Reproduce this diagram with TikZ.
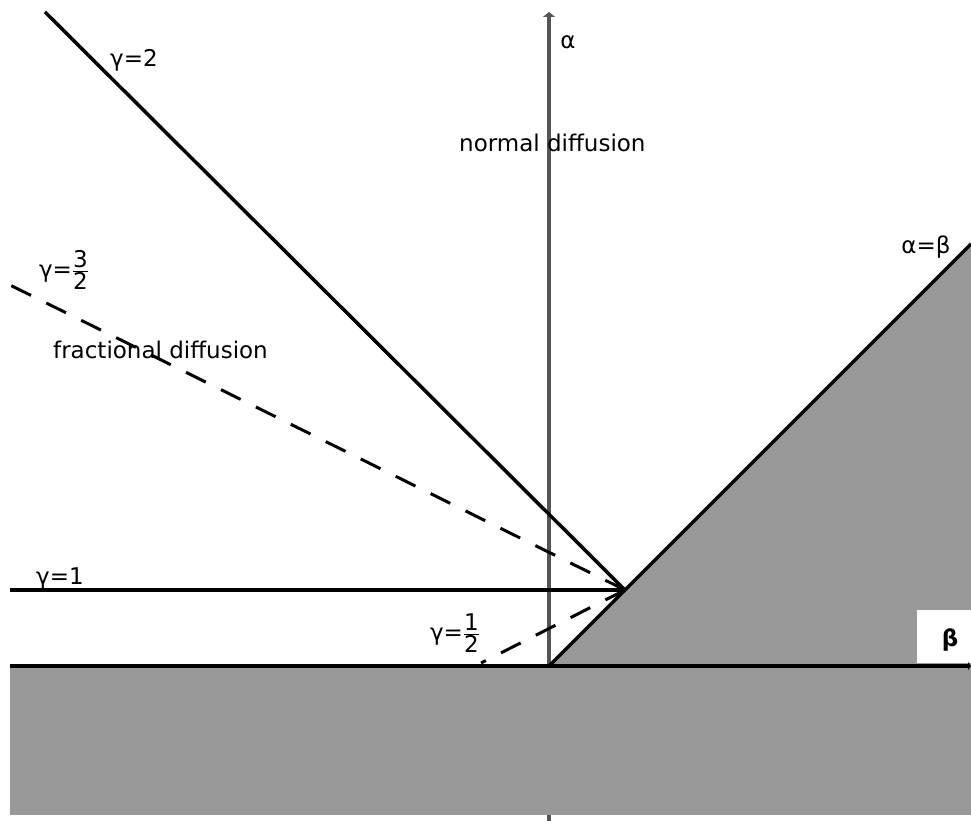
\documentclass[tikz,border=0pt]{standalone}
\usepackage{fontspec}
\setmainfont{DejaVu Sans}
\usetikzlibrary{arrows.meta}
\definecolor{regiongray}{HTML}{999999}
\definecolor{axisgray}{HTML}{555555}
\begin{document}
\begin{tikzpicture}[x=1pt,y=-1pt,
  lbl/.style={font=\fontsize{23}{26}\selectfont, inner sep=0pt},
  curve/.style={line width=3.5pt, black},
  dashcurve/.style={line width=3pt, black, dash pattern=on 22pt off 17pt},
  axisline/.style={line width=4.5pt, axisgray}]
\useasboundingbox (0,0) rectangle (971,821);
% named points
\coordinate (O) at (549,666);
\coordinate (P) at (625,590);
\coordinate (Atop) at (549,12);
\coordinate (Abot) at (549,821);
\coordinate (Bleft) at (10,666);
\coordinate (Bright) at (971,666);
\coordinate (Dtop) at (971,244);
\coordinate (G2) at (45,12);
\coordinate (G1) at (10,590);
\coordinate (G32) at (10,285);
\coordinate (G12) at (481,663);
% alpha axis (hidden below by the shaded band)
\draw[axisline, -{Triangle[length=5pt,width=12pt]}] (Abot) -- (Atop);
% shaded regions
\fill[regiongray] (10,666) rectangle (971,815);
\fill[regiongray] (O) -- (Dtop) -- (Bright) -- cycle;
% beta label box
\fill[white] (917,610) rectangle (971,663);
\node[lbl, font=\fontsize{23}{26}\selectfont\bfseries] (beta) at (950,640) {β};
% beta axis
\draw[line width=3.5pt, black, -{Triangle[length=3pt,width=8pt]}] (Bleft) -- (Bright);
% alpha = beta line
\draw[curve] (O) -- (Dtop);
% gamma lines
\draw[curve] (G2) -- (P);
\draw[curve] (G1) -- (P);
\draw[dashcurve] (P) -- (G32);
\draw[dashcurve] (P) -- (G12);
% labels
\node[lbl] (lg2) at (134,60) {γ=2};
\node[lbl] (lg32) at (64,270) {γ=$\frac{\mbox{3}}{\mbox{2}}$};
\node[lbl] (lg1) at (60,579) {γ=1};
\node[lbl] (lg12) at (455,633) {γ=$\frac{\mbox{1}}{\mbox{2}}$};
\node[lbl] (lab) at (926,247) {α=β};
\node[lbl] (lalpha) at (568,42) {α};
\node[lbl, anchor=west] (normal) at (459,143) {normal diffusion};
\node[lbl, anchor=west] (frac) at (53,350) {fractional diffusion};
\end{tikzpicture}
\end{document}
